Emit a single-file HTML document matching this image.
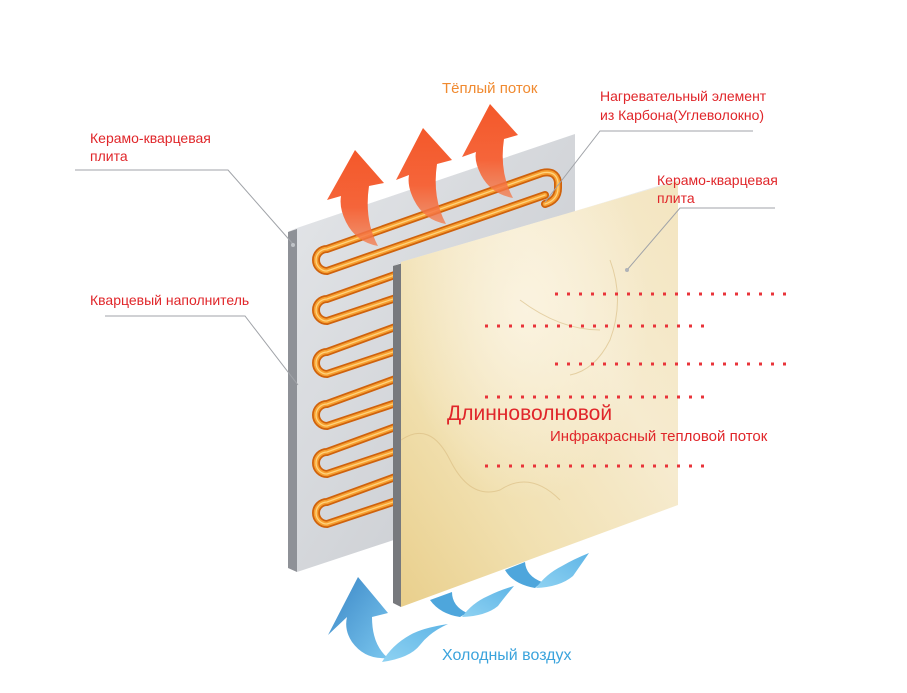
<!DOCTYPE html>
<html><head><meta charset="utf-8"><style>
html,body{margin:0;padding:0;background:#fff;width:907px;height:693px;overflow:hidden}
svg{display:block;font-family:"Liberation Sans","DejaVu Sans",sans-serif}
</style></head><body>
<svg width="907" height="693" viewBox="0 0 907 693" xmlns="http://www.w3.org/2000/svg">
<defs>
<linearGradient id="back" x1="0" y1="0" x2="1" y2="1">
<stop offset="0" stop-color="#e4e6e9"/><stop offset="1" stop-color="#c4c7cc"/></linearGradient>
<linearGradient id="front" x1="0" y1="1" x2="1" y2="0">
<stop offset="0" stop-color="#e9cf8c"/><stop offset="0.3" stop-color="#f1e0b0"/><stop offset="0.65" stop-color="#f6ebcf"/><stop offset="1" stop-color="#f3e5c0"/></linearGradient>
<radialGradient id="mv" cx="0.45" cy="0.3" r="0.45"><stop offset="0" stop-color="#fbf4e2" stop-opacity="0.9"/><stop offset="1" stop-color="#fbf4e2" stop-opacity="0"/></radialGradient>
<linearGradient id="oarr" x1="0" y1="0" x2="0" y2="1">
<stop offset="0" stop-color="#f4582a"/><stop offset="0.6" stop-color="#f5653a"/><stop offset="1" stop-color="#f47a4a" stop-opacity="0.75"/></linearGradient>
<linearGradient id="barr" x1="0" y1="0" x2="1" y2="1">
<stop offset="0" stop-color="#3a86c6"/><stop offset="1" stop-color="#7ac6ee"/></linearGradient>
<linearGradient id="bt" x1="0" y1="1" x2="1" y2="0">
<stop offset="0" stop-color="#8fd2f2"/><stop offset="1" stop-color="#5fb5e6"/></linearGradient>
<g id="c1">
<path d="M545,204 Q558,200 558,188 L558,182 Q556,170 542,173 L327,249 A11 11 0 0 0 327,271 L545,195"/>
<path d="M420,266 L327,299 A11 11 0 0 0 327,321 L420,290"/>
<path d="M420,318 L327,352 A11 11 0 0 0 327,374 L420,343"/>
<path d="M420,370 L327,404 A11 11 0 0 0 327,426 L420,395"/>
<path d="M420,418 L327,452 A11 11 0 0 0 327,474 L420,443"/>
<path d="M420,468 L327,502 A11 11 0 0 0 327,524 L420,493"/>
</g>
</defs>

<!-- back panel -->
<polygon points="288,232 297,228 297,572 288,568" fill="#8e9197"/>
<polygon points="288,232 566,137 575,134 297,228" fill="#f4f5f7"/>
<polygon points="297,228 575,134 575,480 297,572" fill="url(#back)"/>

<!-- coil -->
<g fill="none" stroke-linecap="round">
<use href="#c1" stroke="#cf620c" stroke-width="8"/>
<use href="#c1" stroke="#f7a031" stroke-width="4.5"/>
<use href="#c1" stroke="#ffd37e" stroke-width="1.3"/>
</g>

<!-- orange arrows -->
<g fill="url(#oarr)">
<path d="M355,150 L384,183 L369,186 Q364,220 378,246 Q356,242 346,222 Q339,208 341,196 L327,200 Z"/>
<path d="M423,128 L452,160 L437,164 Q432,198 446,224 Q424,220 414,200 Q407,186 409,175 L396,180 Z"/>
<path d="M490,104 L518,135 L504,139 Q499,172 513,198 Q491,194 481,175 Q474,161 476,152 L462,157 Z"/>
</g>

<!-- front panel -->
<polygon points="393,266 401,262 401,607 393,603" fill="#77797d"/>
<polygon points="393,266 671,182 678,181 401,262" fill="#e8eaec"/>
<polygon points="401,262 678,181 678,505 401,607" fill="url(#front)"/>
<polygon points="401,262 678,181 678,505 401,607" fill="url(#mv)"/>
<g stroke="#d8bb80" stroke-width="1" fill="none" opacity="0.6">
<path d="M401,440 Q430,420 450,460 Q470,500 500,490 Q530,470 560,500"/>
<path d="M610,260 Q625,300 610,340 Q595,370 570,375"/>
<path d="M520,300 Q560,330 600,330"/>
</g>

<!-- blue arrows -->
<path d="M358,577 L388,613 L372,617 Q372,645 388,658 Q365,660 352,642 Q344,630 347,617 L328,635 Z" fill="url(#barr)"/>
<path d="M382,662 Q392,645 410,635 Q422,628 448,624 Q430,632 420,645 Q410,658 382,662 Z" fill="url(#bt)"/>
<path d="M430,600 L452,592 Q452,606 467,613 L460,617 Q440,614 430,600 Z" fill="#4ea6dc"/>
<path d="M462,617 Q472,603 488,596 Q500,590 514,586 Q504,598 498,606 Q486,616 462,617 Z" fill="url(#bt)"/>
<path d="M505,570 L525,562 Q526,576 542,582 L535,588 Q513,584 505,570 Z" fill="#4ea6dc"/>
<path d="M536,588 Q546,574 562,566 Q574,559 589,553 Q580,566 573,576 Q560,587 536,588 Z" fill="url(#bt)"/>

<!-- leader lines -->
<g stroke="#a0a3a8" stroke-width="1" fill="none">
<polyline points="75,170 228,170 293,244"/>
<polyline points="105,316 245,316 298,385"/>
<polyline points="753,131 600,131 545,202"/>
<polyline points="775,208 680,208 627,270"/>
</g>
<circle cx="293" cy="245" r="2" fill="#c0c3c8"/>
<circle cx="627" cy="270" r="2" fill="#b0b3b8"/>

<!-- dotted rows -->
<g stroke="#e8343a" stroke-width="3" stroke-dasharray="3 9">
<line x1="555" y1="294" x2="795" y2="294"/>
<line x1="485" y1="326" x2="712" y2="326"/>
<line x1="555" y1="364" x2="795" y2="364"/>
<line x1="485" y1="397" x2="712" y2="397"/>
<line x1="485" y1="466" x2="712" y2="466"/>
</g>

<!-- labels -->
<g fill="#e0262a" font-size="14">
<text x="90" y="143">Керамо-кварцевая</text>
<text x="90" y="161">плита</text>
<text x="90" y="305">Кварцевый наполнитель</text>
<text x="600" y="101">Нагревательный элемент</text>
<text x="600" y="120">из Карбона(Углеволокно)</text>
<text x="657" y="185">Керамо-кварцевая</text>
<text x="657" y="203">плита</text>
<text x="447" y="420" font-size="21">Длинноволновой</text>
<text x="550" y="441" font-size="15">Инфракрасный тепловой поток</text>
</g>
<text x="442" y="93" fill="#f08a30" font-size="15">Тёплый поток</text>
<text x="442" y="660" fill="#3aa3dc" font-size="16">Холодный воздух</text>
</svg>
</body></html>
